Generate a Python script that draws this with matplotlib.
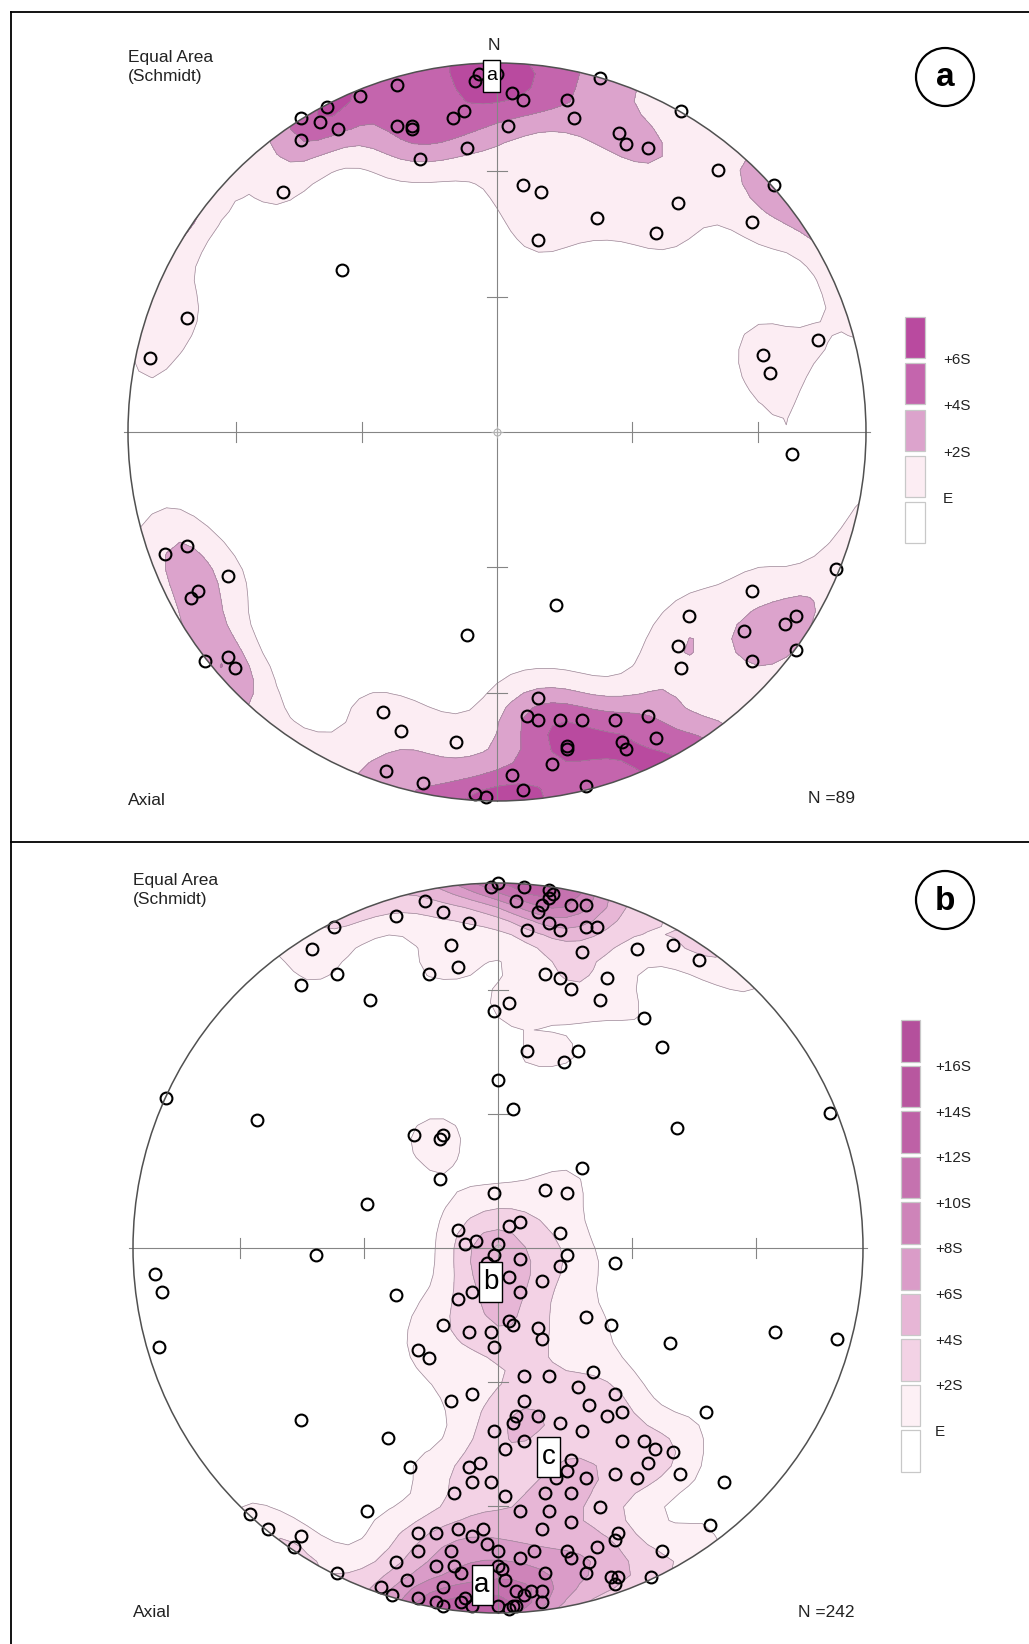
import numpy as np
import matplotlib.pyplot as plt
from matplotlib.patches import Circle, Rectangle

plt.rcParams['font.family'] = ['Liberation Sans', 'DejaVu Sans']

# poles: east / north, in percent of the net radius
a_east = [-5, -6, -27, -37, -46, -53, -48, -43, -53, -9, -12, -27, -23, -23, -8, -21, -58, -42, -84, -94,
          0, 4, 7, 3, 28, 19, 21, 33, 35, 41, 50, 60, 75, 7, 12, 49, 27, 69, 43, 11, 87, 72, 74,
          -90, -84, -73, -83, -81, -79, -73, -71, -8, -31, -26, -11, -30, -20, -6, -3,
          80, 92, 69, 52, 49, 50, 67, 78, 81, 81, 69, 16, 11, 8, 11, 17, 23, 32, 41,
          19, 19, 34, 35, 43, 15, 4, 7, 24]
a_north = [97, 95, 94, 91, 88, 85, 84, 82, 79, 87, 85, 83, 83, 82, 77, 74, 65, 44, 31, 20,
           97, 92, 90, 83, 96, 90, 85, 81, 78, 77, 87, 71, 67, 67, 65, 62, 58, 57, 54, 52, 25, 21, 16,
           -33, -31, -39, -45, -43, -62, -61, -64, -55, -76, -81, -84, -92, -95, -98, -99,
           -6, -37, -43, -50, -58, -64, -54, -52, -50, -59, -62, -47, -72, -77, -78, -78, -78, -78, -77,
           -85, -86, -84, -86, -83, -90, -93, -97, -96]

b_east = [-2, 0, -20, -15, -8, -28, -45, -51, -13, -11,
          -19, -44, -54, -35, -91, 7, 14, 15, 14, 5,
          12, 11, 20, 24, 14, 17, 8, 24, 27, 23,
          38, 48, 55, 13, 17, 20, 30, 28, 3, -1,
          40, 8, 22, 18, 45, 0, 4, 91, -66, -23,
          -16, -15, -16, -36, -1, -50, -11, -6, -9, 0,
          -1, -3, -2, -94, -92, -93, -28, -7, -11, -15,
          -8, -2, -1, -22, -19, 49, 23, 13, 19, 3,
          6, 17, 19, 17, 32, 6, 3, 12, 6, 3,
          4, 11, 12, 24, 31, 47, 76, 93, -7, -13,
          -54, -30, -24, -1, -5, -8, -7, -2, -12, -36,
          -68, -63, -54, -56, -44, -22, -17, -11, -7, -4,
          -3, -22, -13, 0, -28, -17, -12, -10, 0, 1,
          -25, -15, 2, -32, -29, -22, -17, -15, -10, -9,
          -7, 0, 3, 7, 14, 26, 22, 32, 7, 25,
          5, 11, 4, 17, 30, 34, 23, 57, 7, 2,
          34, 40, 43, 48, 41, 20, 19, 16, 24, 32,
          38, 50, 62, 2, 13, 20, 6, 14, 28, 58,
          12, 20, 33, 32, 27, 45, 19, 20, 10, 6,
          25, 24, 13, 31, 33, 32, 42, 5, 7, 9, 12, 4, 5, 12]
b_north = [99, 100, 95, 92, 89, 91, 88, 82, 83, 77,
           75, 75, 72, 68, 41, 99, 98, 97, 96, 95,
           94, 92, 94, 94, 89, 87, 87, 88, 88, 81,
           82, 83, 79, 75, 74, 71, 74, 68, 67, 65,
           63, 54, 54, 51, 55, 46, 38, 37, 35, 31,
           30, 31, 19, 12, 15, -2, 5, 2, 1, 1,
           -2, -4, -10, -7, -12, -27, -13, -12, -14, -21,
           -23, -23, -27, -28, -30, 33, 22, 16, 15, 6,
           7, 4, -2, -5, -4, -3, -8, -9, -12, -20,
           -21, -22, -25, -19, -21, -26, -23, -25, -40, -42,
           -47, -52, -60, -50, -59, -60, -64, -64, -67, -72,
           -73, -77, -79, -82, -89, -78, -78, -77, -79, -77,
           -81, -83, -83, -83, -86, -87, -87, -89, -87, -88,
           -91, -93, -91, -93, -95, -96, -97, -98, -97, -96,
           -98, -98, -99, -35, -35, -34, -38, -40, -42, -43,
           -46, -46, -48, -48, -46, -45, -50, -45, -53, -55,
           -53, -53, -55, -56, -59, -58, -61, -63, -63, -62,
           -63, -62, -64, -68, -67, -67, -72, -72, -71, -76,
           -77, -75, -78, -80, -82, -83, -83, -85, -83, -85,
           -86, -89, -89, -90, -90, -92, -90, -94, -95, -94, -94, -98, -98, -97]

a_n = 89
b_n = 242

# contour classes (E, E+2S, ...), lightest first
a_labels = ['E', '+2S', '+4S', '+6S']
b_labels = ['E', '+2S', '+4S', '+6S', '+8S', '+10S', '+12S', '+14S', '+16S']
a_colors = ['#fcedf3', '#dca3cc', '#c465ad', '#b94a9f']
b_colors = ['#fdf0f5', '#f3d2e5', '#e7b6d6', '#da9cc8', '#ce84b9', '#c572af',
            '#be61a6', '#b8579f', '#b4509c']

W, H = 1029, 1644
fig = plt.figure(figsize=(W / 100, H / 100), dpi=100)


def to_vectors(x, y):
    # inverse Schmidt (equal area, lower hemisphere) projection, unit radius
    r = np.hypot(x, y)
    phi = 2 * np.arcsin(np.clip(r / np.sqrt(2), 0, 1))
    rs = np.where(r > 0, r, 1)
    return np.stack([np.sin(phi) * x / rs, np.sin(phi) * y / rs, -np.cos(phi)], axis=-1)


def density_sigma(x, y, gx, gy, area):
    # smoothed counting (axial) with a counting area given as fraction of the net;
    # returned as (count - E) / S
    n = len(x)
    f = 1.0 / area
    p = to_vectors(x, y)
    g = to_vectors(gx.ravel(), gy.ravel())
    c = np.abs(g @ p.T)
    count = np.exp(f * (c - 1)).sum(axis=1)
    m1 = (1 - np.exp(-f)) / f
    m2 = (1 - np.exp(-2 * f)) / (2 * f)
    e = n * m1
    s = np.sqrt(n * (m2 - m1 ** 2))
    return ((count - e) / s).reshape(gx.shape)


def net_axes(cx, cy, R, L=1.12):
    s = L * R
    ax = fig.add_axes([(cx - s) / W, (H - cy - s) / H, 2 * s / W, 2 * s / H])
    ax.set_xlim(-L, L)
    ax.set_ylim(-L, L)
    ax.axis('off')
    return ax


def draw_net(ax, east, north, colors, area):
    x = np.array(east) / 100
    y = np.array(north) / 100
    g = np.linspace(-1.12, 1.12, 61)
    gx, gy = np.meshgrid(g, g)
    z = density_sigma(x, y, gx, gy, area)
    levels = [2 * k for k in range(len(colors))] + [max(z.max(), 2 * len(colors)) + 100]

    rim = Circle((0, 0), 1, transform=ax.transData, fc='none', ec='#505050', lw=1.1, zorder=6)
    cf = ax.contourf(gx, gy, z, levels=levels, colors=colors, zorder=1)
    cf.set_clip_path(rim)
    cl = ax.contour(gx, gy, z, levels=levels[:-1], colors='#9a8897', linewidths=0.5, zorder=2)
    cl.set_clip_path(rim)
    ax.add_patch(rim)

    # primitive cross with 30 / 60 degree plunge ticks
    ax.plot([-1.01, 1.01], [0, 0], color='#858585', lw=0.8, zorder=3)
    ax.plot([0, 0], [-1, 1], color='#858585', lw=0.8, zorder=3)
    for plunge in (30, 60):
        t = np.sqrt(2) * np.sin(np.radians(90 - plunge) / 2)
        for s in (-t, t):
            ax.plot([s, s], [-0.028, 0.028], color='#858585', lw=0.8, zorder=3)
            ax.plot([-0.028, 0.028], [s, s], color='#858585', lw=0.8, zorder=3)
    ax.plot(0, 0, marker='o', ms=5, mfc='none', mec='#b0b0b0', mew=0.8, zorder=3)
    ax.plot(0, 0, marker='+', ms=9, mec='#b0b0b0', mew=0.8, zorder=3)

    ax.plot(x, y, 'o', ms=8.5, mfc='none', mec='black', mew=1.5, zorder=5)


ax_a = net_axes(497, 432, 369)
draw_net(ax_a, a_east, a_north, a_colors, area=0.0125)
ax_b = net_axes(498, 1248, 365)
draw_net(ax_b, b_east, b_north, b_colors, area=0.011)

# overlay in pixel units for frames, legends and labels
ov = fig.add_axes([0, 0, 1, 1])
ov.set_xlim(0, W)
ov.set_ylim(H, 0)
ov.axis('off')
ov.set_zorder(10)

ov.plot([10.5, 10.5], [12.5, H], color='black', lw=1.3)
ov.plot([10.5, W], [12.5, 12.5], color='black', lw=1.3)
ov.plot([10.5, W], [842, 842], color='black', lw=1.3)

txt = dict(fontsize=12.5, color='#222222')
ov.text(128, 50, 'Equal Area\n(Schmidt)', va='top', ha='left', linespacing=1.3, **txt)
ov.text(133, 873, 'Equal Area\n(Schmidt)', va='top', ha='left', linespacing=1.3, **txt)
ov.text(494, 46, 'N', ha='center', va='center', fontsize=12.5, color='#222222')
ov.text(128, 800, 'Axial', ha='left', va='center', **txt)
ov.text(133, 1612, 'Axial', ha='left', va='center', **txt)
ov.text(855, 798, f'N ={a_n}', ha='right', va='center', **txt)
ov.text(855, 1612, f'N ={b_n}', ha='right', va='center', **txt)

for cy, letter in ((77, 'a'), (900, 'b')):
    ov.add_patch(Circle((945, cy), 29, fc='white', ec='black', lw=1.6))
    ov.text(945, cy + 1, letter, ha='center', va='center', fontsize=24, fontweight='bold')

# boxed markers on the nets
for (bx, by, bw, bh, s, fs) in ((491.5, 76, 17, 32, 'a', 14),
                                (490.5, 1282, 23, 40, 'b', 20),
                                (548.5, 1457, 23, 40, 'c', 20),
                                (482, 1585, 21, 40, 'a', 20)):
    ov.add_patch(Rectangle((bx - bw / 2, by - bh / 2), bw, bh, fc='white', ec='black', lw=1.0, zorder=5))
    ov.text(bx, by, s, ha='center', va='center', fontsize=fs, zorder=6)


def legend(x0, top, box_w, box_h, step, colors, labels, label_x, label_top):
    fills = list(colors[::-1]) + ['white']
    for i, c in enumerate(fills):
        ov.add_patch(Rectangle((x0, top + i * step), box_w, box_h, fc=c, ec='#c8c8c8', lw=0.9))
    for i, lab in enumerate(labels[::-1]):
        ov.text(label_x, label_top + i * step, lab, ha='left', va='center', fontsize=11, color='#222222')


legend(905, 317, 20, 41, 46.3, a_colors, a_labels, 943, 360)
legend(901, 1020, 19, 41.5, 45.6, b_colors, b_labels, 935, 1067)

fig.savefig('out.png', dpi=100)
